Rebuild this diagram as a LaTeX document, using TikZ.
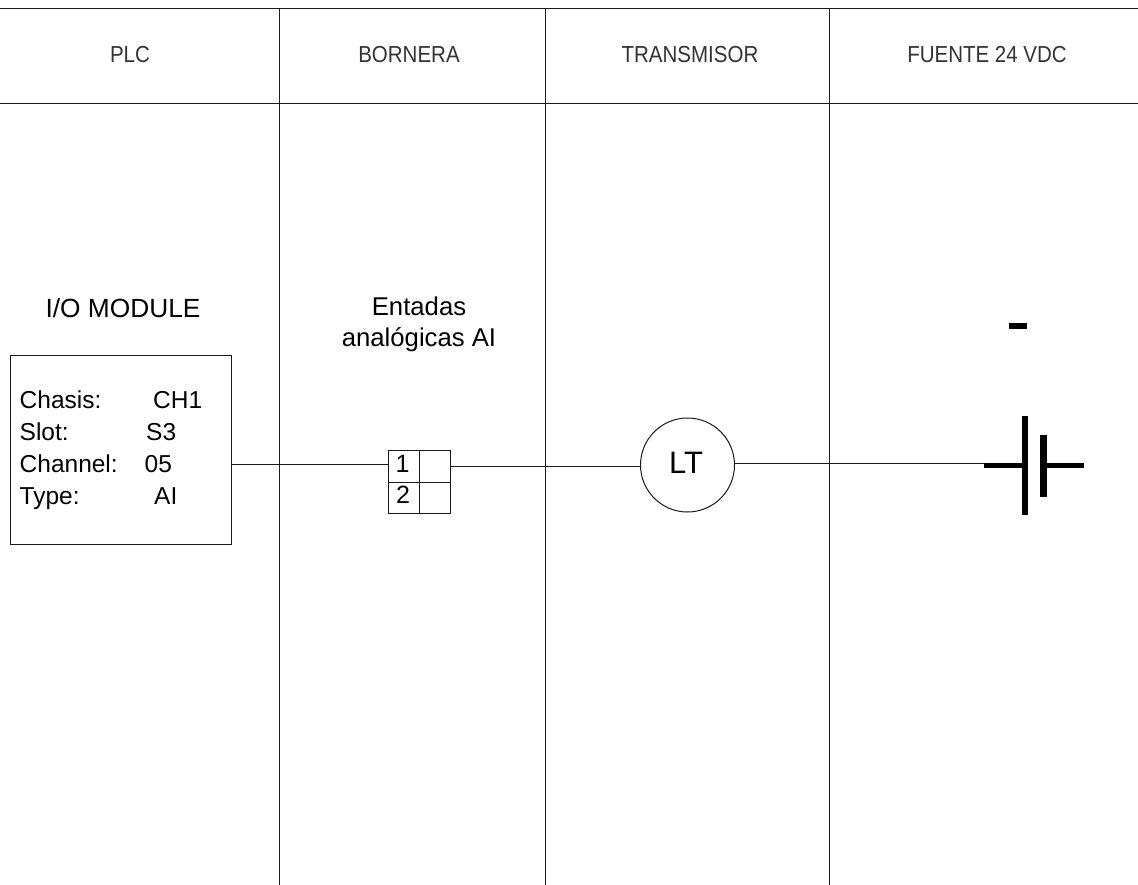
\documentclass[tikz,border=0pt]{standalone}
\usepackage{graphicx}
\usepackage{fontspec}
\setmainfont{Liberation Sans}
\newcommand{\fsz}[1]{\fontsize{#1}{#1}\selectfont}
\newcommand{\tallhead}[1]{\scalebox{1}[1.13]{#1}}
\tikzset{
  wire/.style={draw=black!90,line width=1pt},
  heading/.style={inner sep=0pt,text=black!80,font=\fsz{20.5}},
  title/.style={inner sep=0pt,text=black,font=\fsz{25.7}},
  info/.style={anchor=base west,inner sep=0pt,font=\fsz{24.5}},
  cell/.style={anchor=north west,draw=black!90,line width=1pt,minimum width=31pt,inner sep=0pt},
  batt/.style={line width=5.5pt,draw=black},
}
\begin{document}
\begin{tikzpicture}[x=1pt,y=-1pt]
\useasboundingbox (0,0) rectangle (1138,885);
\fill[white] (0,0) rectangle (1138,885);
% frame grid
\coordinate (hL1) at (0,8.5); \coordinate (hR1) at (1138,8.5);
\coordinate (hL2) at (0,103.5); \coordinate (hR2) at (1138,103.5);
\coordinate (v1t) at (279.5,8.5); \coordinate (v1b) at (279.5,885);
\coordinate (v2t) at (545.5,8.5); \coordinate (v2b) at (545.5,885);
\coordinate (v3t) at (829.5,8.5); \coordinate (v3b) at (829.5,885);
\draw[wire] (hL1) -- (hR1);
\draw[wire] (hL2) -- (hR2);
\draw[wire] (v1t) -- (v1b);
\draw[wire] (v2t) -- (v2b);
\draw[wire] (v3t) -- (v3b);
% headings
\node[heading] (hplc) at (130,55) {\tallhead{PLC}};
\node[heading] (hbor) at (409,55) {\tallhead{BORNERA}};
\node[heading] (htra) at (690,55) {\tallhead{TRANSMISOR}};
\node[heading] (hfue) at (987,55) {\tallhead{FUENTE 24 VDC}};
% titles
\node[title,font=\fsz{26.3}] (tio) at (123,308) {I/O MODULE};
\node[title] (tent1) at (419,306) {Entadas};
\node[title] (tent2) at (419,340) {analógicas AI};
% module
\node[draw=black!90,line width=1pt,minimum width=220.5pt,minimum height=188.5pt,inner sep=0pt,anchor=north west] (mod) at (10,355) {};
\node[info] (c1) at (19.5,408) {Chasis:};
\node[info] (c2) at (19.5,440) {Slot:};
\node[info] (c3) at (19.5,472) {Channel:};
\node[info] (c4) at (19.5,504) {Type:};
\node[info] (v1) at (153,408) {CH1};
\node[info] (v2) at (146,440) {S3};
\node[info] (v3) at (144.5,472) {05};
\node[info] (v4) at (154,504) {AI};
% terminal block
\node[cell,minimum height=32pt] (t1) at (388,450) {};
\node[cell,minimum height=32pt] (t1b) at (419,450) {};
\node[cell,minimum height=31pt] (t2) at (388,482) {};
\node[cell,minimum height=31pt] (t2b) at (419,482) {};
\node[inner sep=0pt,font=\fsz{25}] (n1) at (402.5,464) {1};
\node[inner sep=0pt,font=\fsz{25}] (n2) at (403,495) {2};
% transmitter
\node[circle,draw=black!90,line width=1pt,minimum size=94pt,inner sep=0pt] (lt) at (687.5,465) {};
\node[inner sep=0pt,font=\fsz{31}] (ltt) at (686,463) {LT};
% battery
\node[inner sep=0pt,minimum width=18pt,minimum height=6pt,fill=black] (minus) at (1018,326) {};
\coordinate (pA) at (1025,416);
\coordinate (pB) at (1025,515);
\coordinate (nA) at (1043.5,435);
\coordinate (nB) at (1043.5,497);
\coordinate (bm) at (1025,465.5);
\coordinate (bn) at (1043.5,465.5);
\coordinate (lead) at (984,465.5);
\coordinate (leadr) at (1084,465.5);
\draw[batt] (pA) -- (pB);
\draw[batt,line width=6.5pt] (nA) -- (nB);
\draw[batt] (lead) -- (bm);
\draw[batt] (bn) -- (leadr);
% wires
\draw[wire] (mod.east |- 0,464.5) -- (t1.west |- 0,464.5);
\draw[wire] (t1b.east |- 0,466.5) -- (lt.west |- 0,466.5);
\draw[wire] (lt.east |- 0,463.5) -- (lead |- 0,463.5);
\end{tikzpicture}
\end{document}
